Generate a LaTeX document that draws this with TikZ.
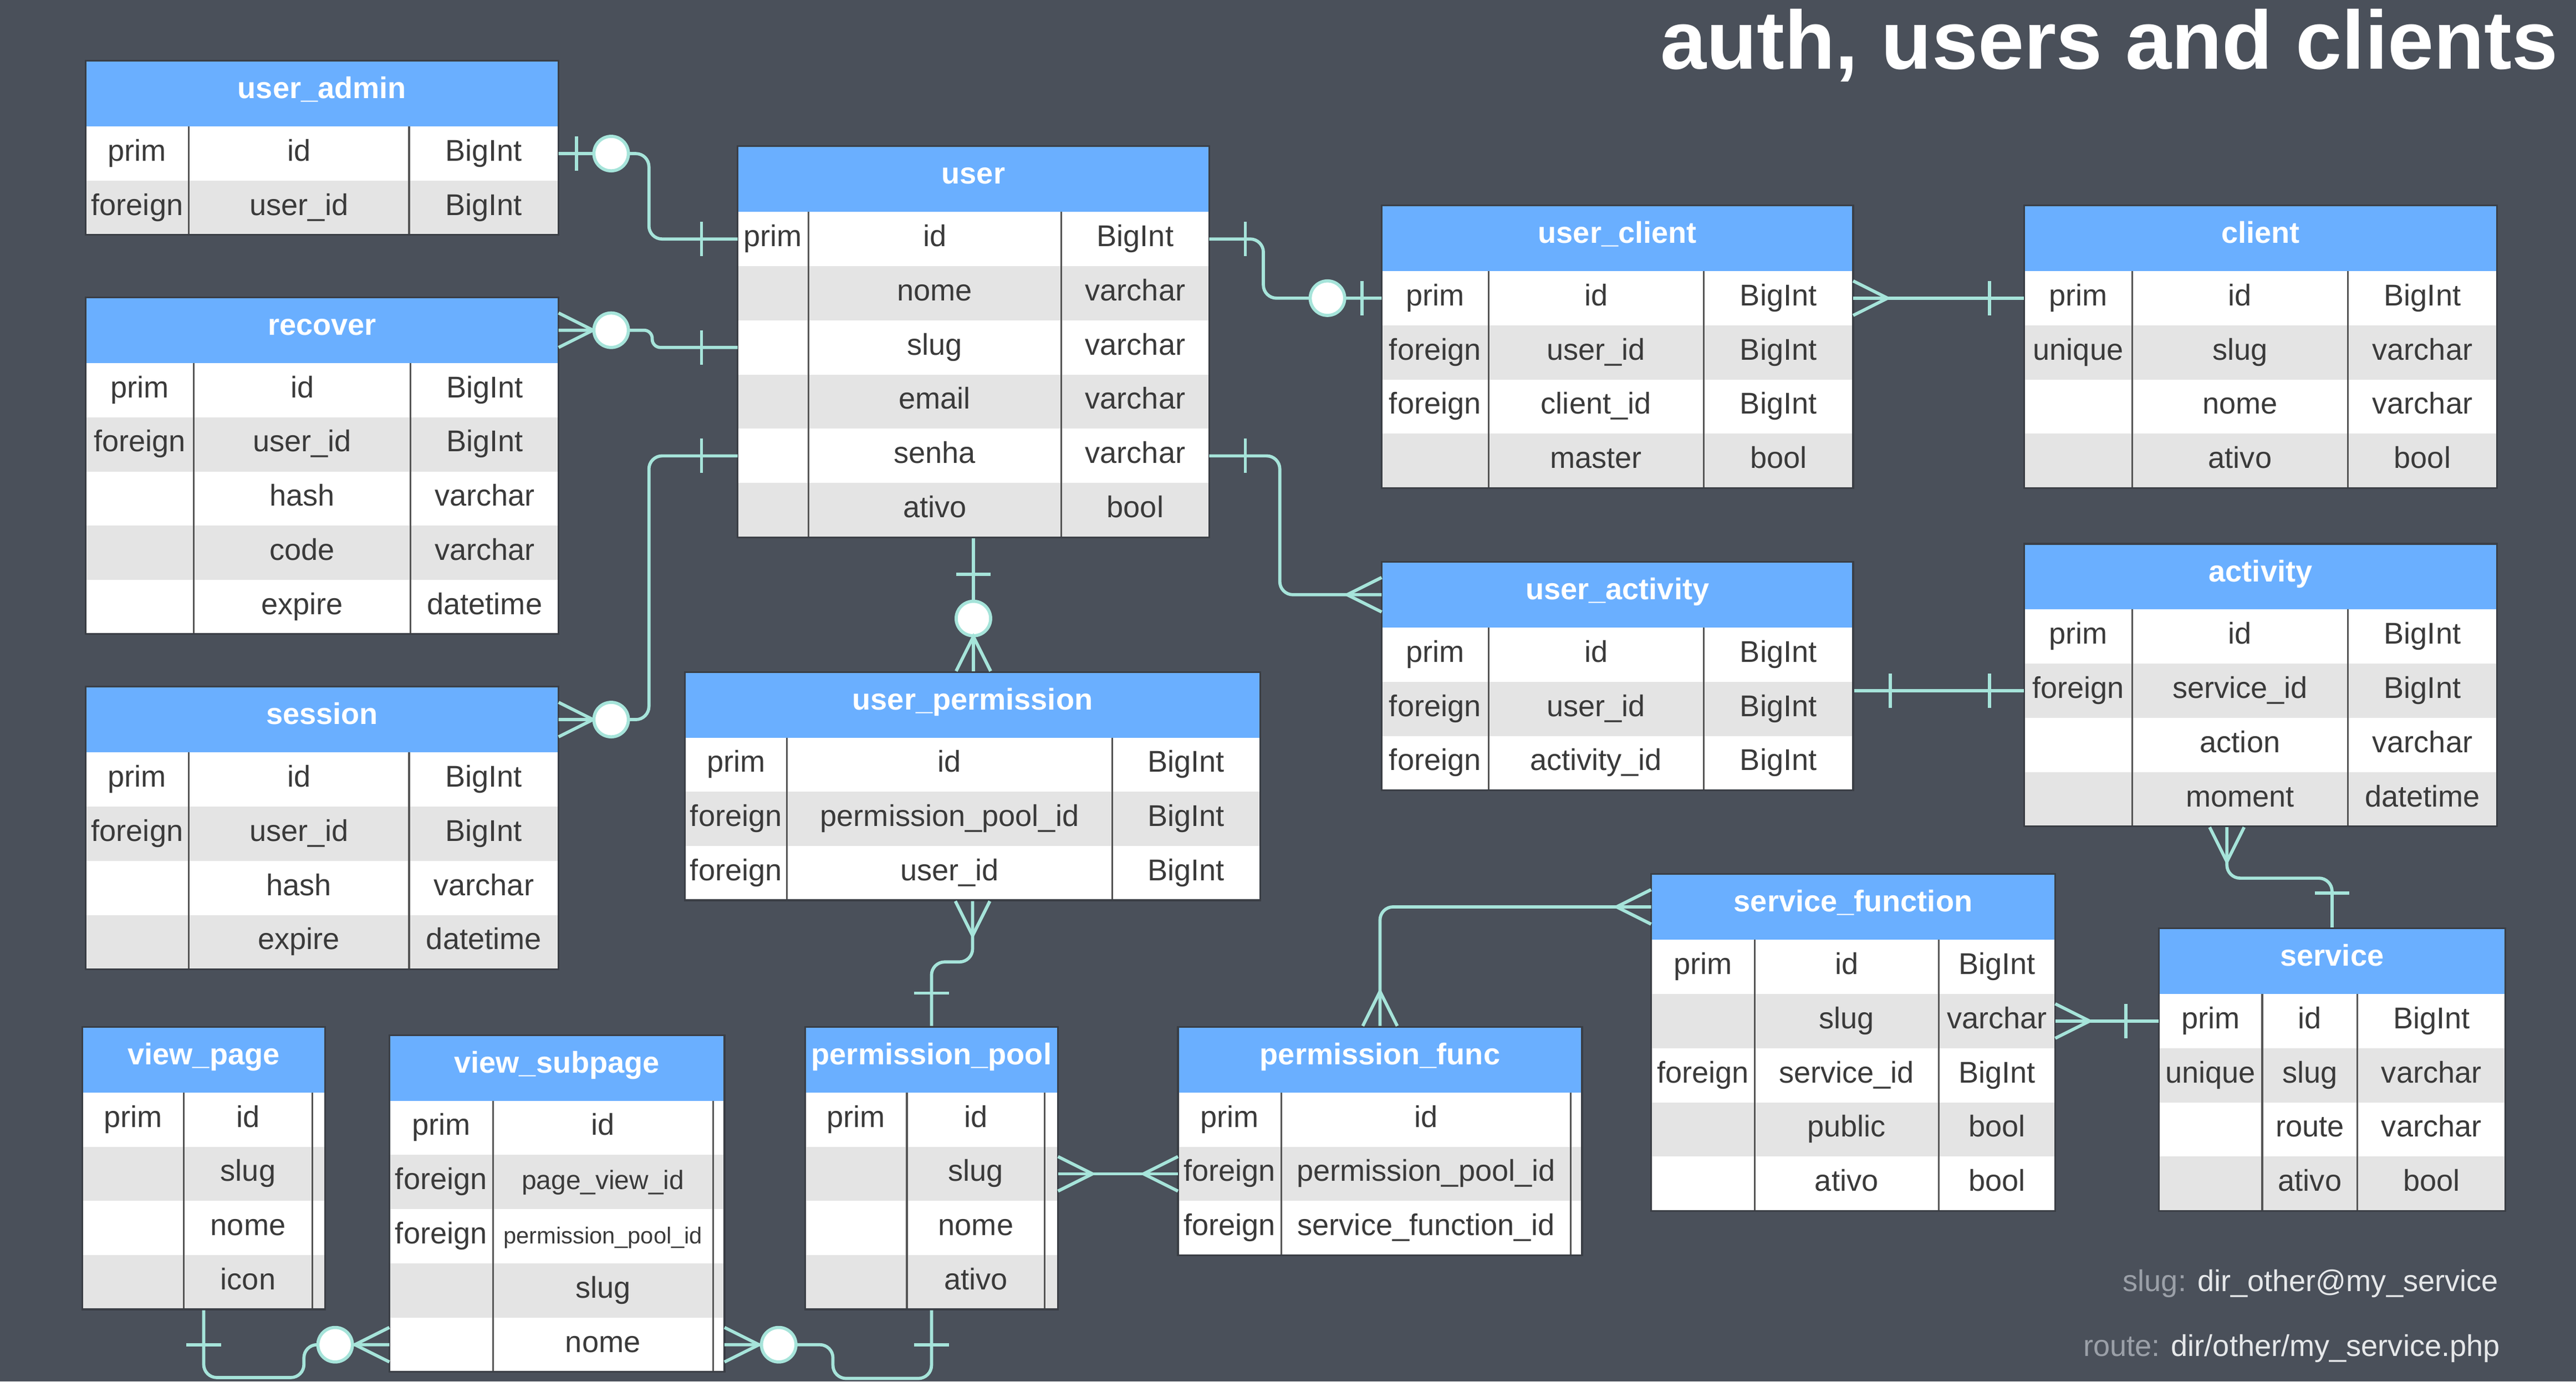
\documentclass[tikz,border=0pt]{standalone}
\usepackage{fontspec}
\setmainfont{Liberation Sans}
\usepackage{xcolor}
\usepackage{tikz}
\usetikzlibrary{calc,fit}
\definecolor{bg}{HTML}{4A505A}
\definecolor{hdrblue}{HTML}{6AAFFF}
\definecolor{rowb}{HTML}{E4E4E4}
\definecolor{ink}{HTML}{3A3A3A}
\definecolor{rule}{HTML}{555555}
\definecolor{edge}{HTML}{3A3E45}
\definecolor{link}{HTML}{A6E4DA}
\definecolor{note}{HTML}{9BA0A8}
\definecolor{notehi}{HTML}{E6E8EA}
\tikzset{
  hdr/.style={fill=hdrblue, inner sep=0pt, outer sep=0pt, minimum height=0.8cm},
  hdrt/.style={text=white, font=\bfseries\fontsize{10.4}{12}\selectfont, inner sep=0pt, anchor=base},
  rowbox/.style={inner sep=0pt, outer sep=0pt, minimum height=0.66cm},
  cellt/.style={text=ink, font=\fontsize{10.4}{12}\selectfont, inner sep=0pt, anchor=base},
  colline/.style={draw=rule, line width=0.6pt},
  tabedge/.style={draw=edge, line width=0.6pt, inner sep=0pt},
  rel/.style={draw=link, line width=1.1pt, rounded corners=0.16cm},
  notet/.style={text=notehi, font=\fontsize{10.4}{12}\selectfont, inner sep=0pt, anchor=base east},
  titlet/.style={text=white, font=\bfseries\fontsize{28.7}{32}\selectfont, inner sep=0pt, anchor=base east},
  crow/.pic={\draw[rel, sharp corners] (21,-10.5) -- (0,0) -- (21,10.5);},
  bar/.pic={\draw[rel, sharp corners] (0,-10.5) -- (0,10.5);},
  zero/.pic={\draw[rel, fill=white] (0,0) circle[radius=0.21cm];},
}
\newcommand{\midcell}{\fontsize{9.2}{11}\selectfont}
\newcommand{\tinycell}{\fontsize{8}{10}\selectfont}
% #1 name, #2 x, #3 y, #4-#6 column widths, #7 title, #8 rows
\newcommand{\erdtable}[8]{%
  \node[hdr, minimum width={(#4+#5+#6)*0.02cm}, anchor=north west] (#1-h) at (#2,#3) {};
  \node[hdrt] (#1-t) at ($(#1-h.center)+(0,3)$) {#7};
  \foreach \ckey/\cfld/\ctyp [count=\i] in {#8} {
    \ifodd\i \def\rowfill{white}\else \def\rowfill{rowb}\fi
    \node[rowbox, fill=\rowfill, minimum width={(#4+#5+#6)*0.02cm}, anchor=north west]
      (#1-\i) at ($(#1-h.south west)+(0,{33*(\i-1)})$) {};
    \node[cellt] (#1-\i-k) at ($(#1-\i.west)+({#4/2},4.5)$) {\ckey};
    \node[cellt] (#1-\i-f) at ($(#1-\i.west)+({#4+#5/2},4.5)$) {\cfld};
    \node[cellt] (#1-\i-y) at ($(#1-\i.west)+({#4+#5+#6/2},4.5)$) {\ctyp};
    \draw[colline] ($(#1-\i.north west)+(#4,0)$) -- ($(#1-\i.south west)+(#4,0)$);
    \draw[colline] ($(#1-\i.north west)+({#4+#5},0)$) -- ($(#1-\i.south west)+({#4+#5},0)$);
    \xdef\lastrow{\i}
  }
  \node[fit=(#1-h)(#1-\lastrow), tabedge] (#1) {};
}

\begin{document}
\begin{tikzpicture}[x=0.02cm,y=-0.02cm]
  \fill[bg] (0,0) rectangle (1568,841);
  \useasboundingbox (0,0) rectangle (1568,841);

  \node[titlet] (title) at (1557.5,42) {auth, users and clients};

  \erdtable{useradmin}{52}{37}{63}{134}{91}{user\_admin}{
    prim/id/BigInt, foreign/user\_id/BigInt}
  \erdtable{recover}{52}{181}{66}{132}{90}{recover}{
    prim/id/BigInt, foreign/user\_id/BigInt, {}/hash/varchar, {}/code/varchar, {}/expire/datetime}
  \erdtable{session}{52}{418}{63}{134}{91}{session}{
    prim/id/BigInt, foreign/user\_id/BigInt, {}/hash/varchar, {}/expire/datetime}
  \erdtable{user}{449}{89}{43}{154}{90}{user}{
    prim/id/BigInt, {}/nome/varchar, {}/slug/varchar, {}/email/varchar, {}/senha/varchar, {}/ativo/bool}
  \erdtable{userpermission}{417}{409}{62}{198}{90}{user\_permission}{
    prim/id/BigInt, foreign/permission\_pool\_id/BigInt, foreign/user\_id/BigInt}
  \erdtable{userclient}{841}{125}{65}{131}{91}{user\_client}{
    prim/id/BigInt, foreign/user\_id/BigInt, foreign/client\_id/BigInt, {}/master/bool}
  \erdtable{client}{1232}{125}{66}{131}{91}{client}{
    prim/id/BigInt, unique/slug/varchar, {}/nome/varchar, {}/ativo/bool}
  \erdtable{useractivity}{841}{342}{65}{131}{91}{user\_activity}{
    prim/id/BigInt, foreign/user\_id/BigInt, foreign/activity\_id/BigInt}
  \erdtable{activity}{1232}{331}{66}{131}{91}{activity}{
    prim/id/BigInt, foreign/service\_id/BigInt, {}/action/varchar, {}/moment/datetime}
  \erdtable{servicefunction}{1005}{532}{63}{112}{71}{service\_function}{
    prim/id/BigInt, {}/slug/varchar, foreign/service\_id/BigInt, {}/public/bool, {}/ativo/bool}
  \erdtable{service}{1314}{565}{63}{58}{90}{service}{
    prim/id/BigInt, unique/slug/varchar, {}/route/varchar, {}/ativo/bool}
  \erdtable{permissionfunc}{717}{625}{63}{176}{7}{permission\_func}{
    prim/id/{}, foreign/permission\_pool\_id/{}, foreign/service\_function\_id/{}}
  \erdtable{permissionpool}{490}{625}{62}{84}{8}{permission\_pool}{
    prim/id/{}, {}/slug/{}, {}/nome/{}, {}/ativo/{}}
  \erdtable{viewsubpage}{237}{630}{63}{134}{7}{view\_subpage}{
    prim/id/{}, foreign/{\midcell page\_view\_id}/{}, foreign/{\tinycell permission\_pool\_id}/{}, {}/slug/{}, {}/nome/{}}
  \erdtable{viewpage}{50}{625}{62}{78}{8}{view\_page}{
    prim/id/{}, {}/slug/{}, {}/nome/{}, {}/icon/{}}

  \draw[rel] (useradmin-1.east) -| ($(user-1.west)+(-54,0)$) -- (user-1.west);
  \draw[rel, rounded corners=0.1cm] (recover-h.east) -| ($(user-3.west)+(-52,0)$) -- (user-3.west);
  \draw[rel] (session-h.east) -| ($(user-5.west)+(-54,0)$) -- (user-5.west);
  \draw[rel] (user-1.east) -| ($(userclient-1.west)+(-72,0)$) -- (userclient-1.west);
  \draw[rel] (user-5.east) -| ($(useractivity-h.west)+(-62,0)$) -- (useractivity-h.west);
  \draw[rel] (user.south) -- (user.south |- userpermission.north);
  \draw[rel] (userpermission.south) -- ++(0,37) -| (permissionpool.north);
  \draw[rel] (userclient-1.east) -- (client-1.west);
  \draw[rel] (activity-2.west -| useractivity.east) -- (activity-2.west);
  \draw[rel] ($(activity.south)+(-20.5,0)$) -- ++(0,31) -| (service.north);
  \draw[rel] (servicefunction-h.west) -| (permissionfunc.north);
  \draw[rel] (servicefunction-2.east) -- (service-1.west);
  \draw[rel] (permissionpool-2.east) -- (permissionfunc-2.west);
  \draw[rel] (viewpage.south) |- ($(viewsubpage-5.west)+(-52,20)$) |- (viewsubpage-5.west);
  \draw[rel] (viewsubpage-5.east) -| ($(permissionpool.south)+(-60,41.5)$) -| (permissionpool.south);

  \pic at ($(useradmin-1.east)+(11,0)$) {bar};
  \pic at ($(useradmin-1.east)+(32,0)$) {zero};
  \pic at ($(user-1.west)+(-22,0)$) {bar};
  \pic[rotate=180] at ($(recover-h.east)+(21,0)$) {crow};
  \pic at ($(recover-h.east)+(32,0)$) {zero};
  \pic at ($(user-3.west)+(-22,0)$) {bar};
  \pic[rotate=180] at ($(session-h.east)+(21,0)$) {crow};
  \pic at ($(session-h.east)+(32,0)$) {zero};
  \pic at ($(user-5.west)+(-22,0)$) {bar};
  \pic at ($(user-1.east)+(22,0)$) {bar};
  \pic at ($(userclient-1.west)+(-33,0)$) {zero};
  \pic at ($(userclient-1.west)+(-12,0)$) {bar};
  \pic at ($(user-5.east)+(22,0)$) {bar};
  \pic at ($(useractivity-h.west)+(-21,0)$) {crow};
  \pic[rotate=90] at ($(user.south)+(0,22)$) {bar};
  \pic at ($(user.south |- userpermission.north)+(0,-32)$) {zero};
  \pic[rotate=-90] at ($(user.south |- userpermission.north)+(0,-21)$) {crow};
  \pic[rotate=90] at ($(userpermission.south)+(0,21)$) {crow};
  \pic[rotate=90] at ($(permissionpool.north)+(0,-20)$) {bar};
  \pic[rotate=180] at ($(userclient-1.east)+(21,0)$) {crow};
  \pic at ($(client-1.west)+(-21,0)$) {bar};
  \pic at ($(activity-2.west -| useractivity.east)+(22,0)$) {bar};
  \pic at ($(activity-2.west)+(-21,0)$) {bar};
  \pic[rotate=90] at ($(activity.south)+(-20.5,21)$) {crow};
  \pic[rotate=90] at ($(service.north)+(0,-21)$) {bar};
  \pic at ($(servicefunction-h.west)+(-21,0)$) {crow};
  \pic[rotate=-90] at ($(permissionfunc.north)+(0,-21)$) {crow};
  \pic[rotate=180] at ($(servicefunction-2.east)+(21,0)$) {crow};
  \pic at ($(service-1.west)+(-20,0)$) {bar};
  \pic[rotate=180] at ($(permissionpool-2.east)+(21,0)$) {crow};
  \pic at ($(permissionfunc-2.west)+(-21,0)$) {crow};
  \pic[rotate=90] at ($(viewpage.south)+(0,21)$) {bar};
  \pic at ($(viewsubpage-5.west)+(-33,0)$) {zero};
  \pic at ($(viewsubpage-5.west)+(-21,0)$) {crow};
  \pic[rotate=180] at ($(viewsubpage-5.east)+(21,0)$) {crow};
  \pic at ($(viewsubpage-5.east)+(33,0)$) {zero};
  \pic[rotate=90] at ($(permissionpool.south)+(0,21)$) {bar};

  \node[notet] (slugnote) at (1521,786) {\textcolor{note}{slug:} dir\_other@my\_service};
  \node[notet] (routenote) at (1522,825.5) {\textcolor{note}{route:} dir/other/my\_service.php};
\end{tikzpicture}
\end{document}
